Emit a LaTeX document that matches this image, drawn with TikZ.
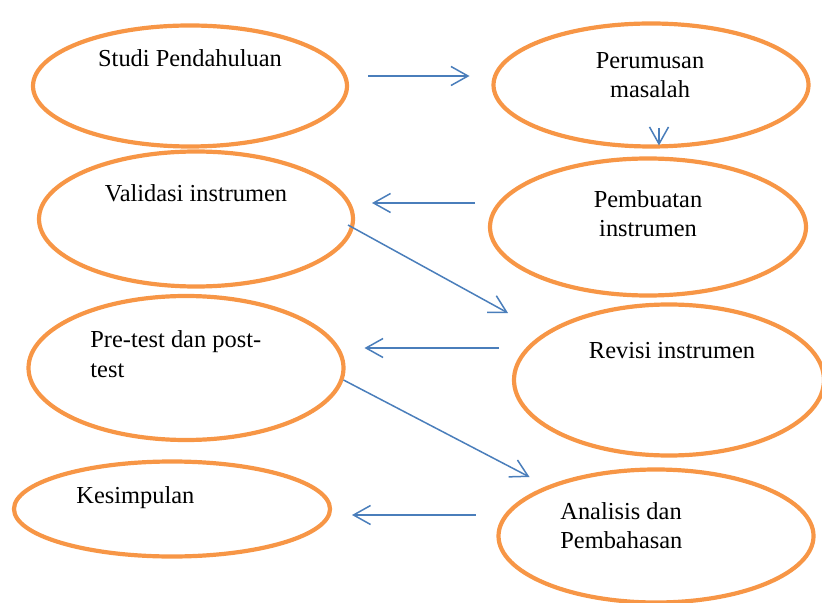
\documentclass[tikz,border=0pt]{standalone}
\usepackage{fontspec}
\setmainfont{Liberation Serif}
\usetikzlibrary{arrows.meta,shapes.geometric}
\definecolor{ringorange}{HTML}{F79646}
\definecolor{flowblue}{HTML}{4A7EBB}

\begin{document}
\begin{tikzpicture}[x=0.5pt,y=-0.5pt,
  ring/.style={draw=ringorange,line width=2.1pt,ellipse,outer sep=0pt,inner sep=0pt},
  lbl/.style={font=\fontsize{12.2}{14.5}\selectfont,inner sep=0pt},
  flow/.style={flowblue,line width=0.75pt,-{Straight Barb[length=8.5pt,width=9.5pt]}}]
\useasboundingbox (0,0) rectangle (822,603);
% the eight steps
\foreach \n/\cx/\cy/\w/\h in {e1/190/86/314/121, e2/651/85/315/123,
    e3/196/219/314/135, e4/648/227/316/137, e5/186/368/315/144,
    e6/669/380/310/151, e7/172/509/316/95, e8/656/536/315/133}{
  \node[ring,minimum width=\w*0.5pt,minimum height=\h*0.5pt] (\n) at (\cx,\cy) {};}
% labels (base = last line)
\node[lbl,anchor=base] (t1) at (190,67) {Studi Pendahuluan};
\node[lbl,anchor=base,align=center] (t2) at (650,98) {Perumusan\\masalah};
\node[lbl,anchor=base] (t3) at (196,202) {Validasi instrumen};
\node[lbl,anchor=base,align=center] (t4) at (648,237) {Pembuatan\\instrumen};
\node[lbl,anchor=base west,align=left] (t5) at (90,377) {Pre-test dan post-\\test};
\node[lbl,anchor=base] (t6) at (672,358) {Revisi instrumen};
\node[lbl,anchor=base west] (t7) at (76,503) {Kesimpulan};
\node[lbl,anchor=base west,align=left] (t8) at (560,548) {Analisis dan\\Pembahasan};
% arrows
\draw[flow] ([shift={(21,-10)}]e1.east) -- ([shift={(-24,-9)}]e2.west);
\draw[flow] ([shift={(8,-18)}]e2.south) -- ([shift={(11,-13)}]e4.north);
\draw[flow] ([shift={(-15,-24)}]e4.west) -- ([shift={(19,-16)}]e3.east);
\draw[flow] ([shift={(-5,6)}]e3.east) -- ([shift={(-6,-67)}]e6.west);
\draw[flow] ([shift={(-15,-32)}]e6.west) -- ([shift={(21,-20)}]e5.east);
\draw[flow] ([shift={(0,12)}]e5.east) -- ([shift={(31,-59)}]e8.west);
\draw[flow] ([shift={(-23,-21)}]e8.west) -- ([shift={(22,6)}]e7.east);
\end{tikzpicture}
\end{document}
